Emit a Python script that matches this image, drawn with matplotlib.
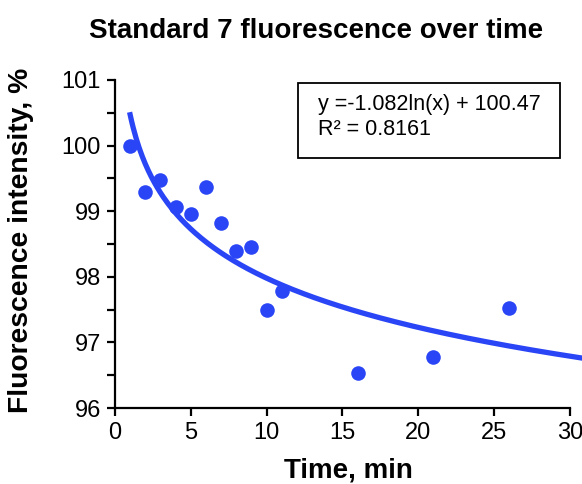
import numpy as np
import matplotlib.pyplot as plt
from matplotlib.patches import Rectangle

# Data
time_min = [1, 2, 3, 4, 5, 6, 7, 8, 9, 10, 11, 16, 21, 26]
intensity = [99.99, 99.3, 99.48, 99.07, 98.96, 99.37, 98.82, 98.39, 98.46, 97.49, 97.78, 96.53, 96.77, 97.53]

# Log trendline coefficients (as shown in the chart)
slope = -1.082
intercept = 100.47

blue = '#2a45f5'

plt.rcParams['font.family'] = ['Liberation Sans', 'DejaVu Sans']

W, H = 582, 484
fig = plt.figure(figsize=(W / 100, H / 100), dpi=100)
ax = fig.add_axes([115 / W, 1 - 408 / H, 1 - 115 / W, (408 - 80) / H])

# trendline
xs = np.linspace(1, 30.8, 300)
ax.plot(xs, slope * np.log(xs) + intercept, color=blue, lw=3.8, clip_on=False, zorder=2)
ax.scatter(time_min, intensity, s=110, color=blue, zorder=3, clip_on=False, linewidths=0)

ax.set_xlim(0, 30.8)
ax.set_ylim(96, 101)
ax.set_xticks(range(0, 31, 5))
ax.set_yticks(range(96, 102))
ax.set_yticks(np.arange(96.5, 101, 1), minor=True)
ax.spines['bottom'].set_bounds(0, 30)
for s in ['top', 'right']:
    ax.spines[s].set_visible(False)
for s in ['left', 'bottom']:
    ax.spines[s].set_linewidth(1.6)
ax.tick_params(axis='both', which='major', length=6, width=1.6, labelsize=17, pad=4)
ax.tick_params(axis='y', which='minor', length=6, width=1.6)

ax.set_xlabel('Time, min', fontsize=20, fontweight='bold', labelpad=10)
ax.set_ylabel('Fluorescence intensity, %', fontsize=20.3, fontweight='bold')
ax.yaxis.set_label_coords((34 - 115) / 467, (408 - 240) / 328)
fig.text(316 / W, 1 - 31 / H, 'Standard 7 fluorescence over time', fontsize=20,
         fontweight='bold', ha='center', va='center')

# equation box
fig.patches.append(Rectangle((298 / W, 1 - 158 / H), (560 - 298) / W, (158 - 83) / H,
                             transform=fig.transFigure, fc='white', ec='black', lw=1.3, zorder=5))
fig.text(318 / W, 1 - 117 / H, 'y =-1.082ln(x) + 100.47\nR\u00b2 = 0.8161',
         fontsize=15.5, ha='left', va='center', linespacing=1.3, zorder=6)

fig.savefig('out.png', dpi=100)
